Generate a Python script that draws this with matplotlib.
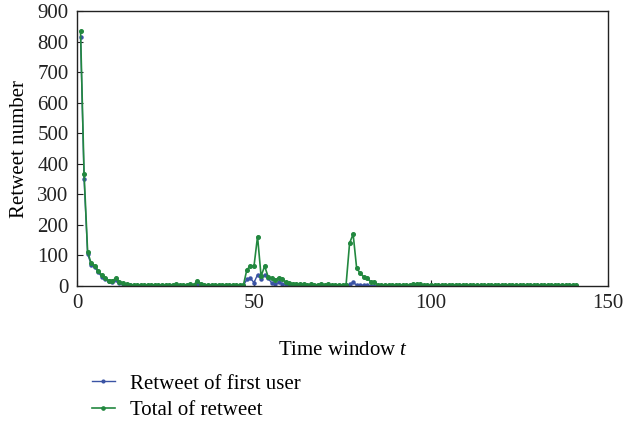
import matplotlib
matplotlib.use("Agg")
import matplotlib.pyplot as plt

plt.rcParams['font.family'] = ['Liberation Serif', 'DejaVu Serif']
plt.rcParams['mathtext.fontset'] = 'custom'
plt.rcParams['mathtext.it'] = 'Liberation Serif:italic'
plt.rcParams['mathtext.rm'] = 'Liberation Serif'

total = [833, 368, 112, 74, 67, 50, 35, 25, 18, 18,
         25, 14, 10, 5, 4, 3, 2, 3, 2, 3,
         2, 4, 3, 2, 3, 4, 3, 5, 3, 4,
         3, 6, 4, 17, 7, 3, 4, 2, 3, 2,
         2, 3, 2, 2, 3, 2, 3, 54, 65, 65,
         162, 32, 65, 30, 25, 20, 27, 22, 12, 10,
         8, 7, 5, 6, 4, 5, 4, 3, 6, 4,
         5, 3, 4, 3, 3, 3, 140, 170, 58, 42,
         30, 25, 14, 12, 4, 3, 2, 3, 2, 2,
         3, 2, 3, 2, 6, 8, 5, 3, 2, 3,
         2, 2, 3, 2, 2, 3, 2, 2, 2, 3,
         2, 2, 3, 2, 2, 2, 3, 2, 2, 2,
         3, 2, 2, 2, 3, 2, 2, 2, 2, 3,
         2, 2, 2, 3, 2, 2, 2, 2, 3, 2,
         2]
first = [816, 349, 105, 70, 62, 45, 30, 22, 15, 14,
         20, 10, 7, 3, 2, 1, 1, 1, 0, 1,
         1, 1, 0, 1, 1, 1, 0, 2, 1, 1,
         1, 2, 1, 8, 3, 1, 1, 0, 1, 0,
         1, 1, 0, 1, 1, 0, 1, 22, 25, 11,
         37, 22, 37, 25, 10, 5, 12, 8, 4, 3,
         2, 2, 1, 2, 1, 1, 1, 0, 2, 1,
         1, 0, 1, 0, 1, 3, 5, 12, 3, 3,
         2, 2, 1, 1, 0, 0, 0, 1, 0, 0,
         1, 0, 1, 0, 2, 3, 1, 0, 0, 1,
         0, 0, 1, 0, 0, 1, 0, 0, 0, 1,
         0, 0, 1, 0, 0, 0, 1, 0, 0, 0,
         1, 0, 0, 0, 1, 0, 0, 0, 0, 1,
         0, 0, 0, 1, 0, 0, 0, 0, 1, 0,
         0]
t = list(range(1, len(total) + 1))

blue = '#3a53a4'
green = '#22883f'

fig = plt.figure(figsize=(6.24, 4.24), dpi=100)
ax = fig.add_axes([77/624, 1 - 286/424, (608 - 77)/624, (286 - 11)/424])

l1, = ax.plot(t, first, color=blue, lw=1.0, marker='o', ms=2.2, mfc=blue, mec=blue,
              label='Retweet of first user')
l2, = ax.plot(t, total, color=green, lw=1.2, marker='o', ms=2.6, mfc=green, mec=green,
              label='Total of retweet')

ax.set_xlim(0, 150)
ax.set_ylim(0, 900)
ax.set_xticks([0, 50, 100, 150])
ax.set_yticks(range(0, 901, 100))
ax.tick_params(direction='in', length=4, width=0.8, labelsize=15, colors='#222222', pad=6)
for s in ax.spines.values():
    s.set_linewidth(1.0)
    s.set_color('#222222')

ax.set_xlabel('Time window $t$', fontsize=15, labelpad=20)
ax.set_ylabel('Retweet number', fontsize=15, labelpad=6)

fig.legend(handles=[l1, l2], loc='upper left', bbox_to_anchor=(92/624, 1 - 374/424),
           frameon=False, fontsize=15, handlelength=1.1, handletextpad=0.7,
           borderpad=0, borderaxespad=0, labelspacing=0.32, markerscale=0.9)

fig.savefig('out.png', dpi=100)
